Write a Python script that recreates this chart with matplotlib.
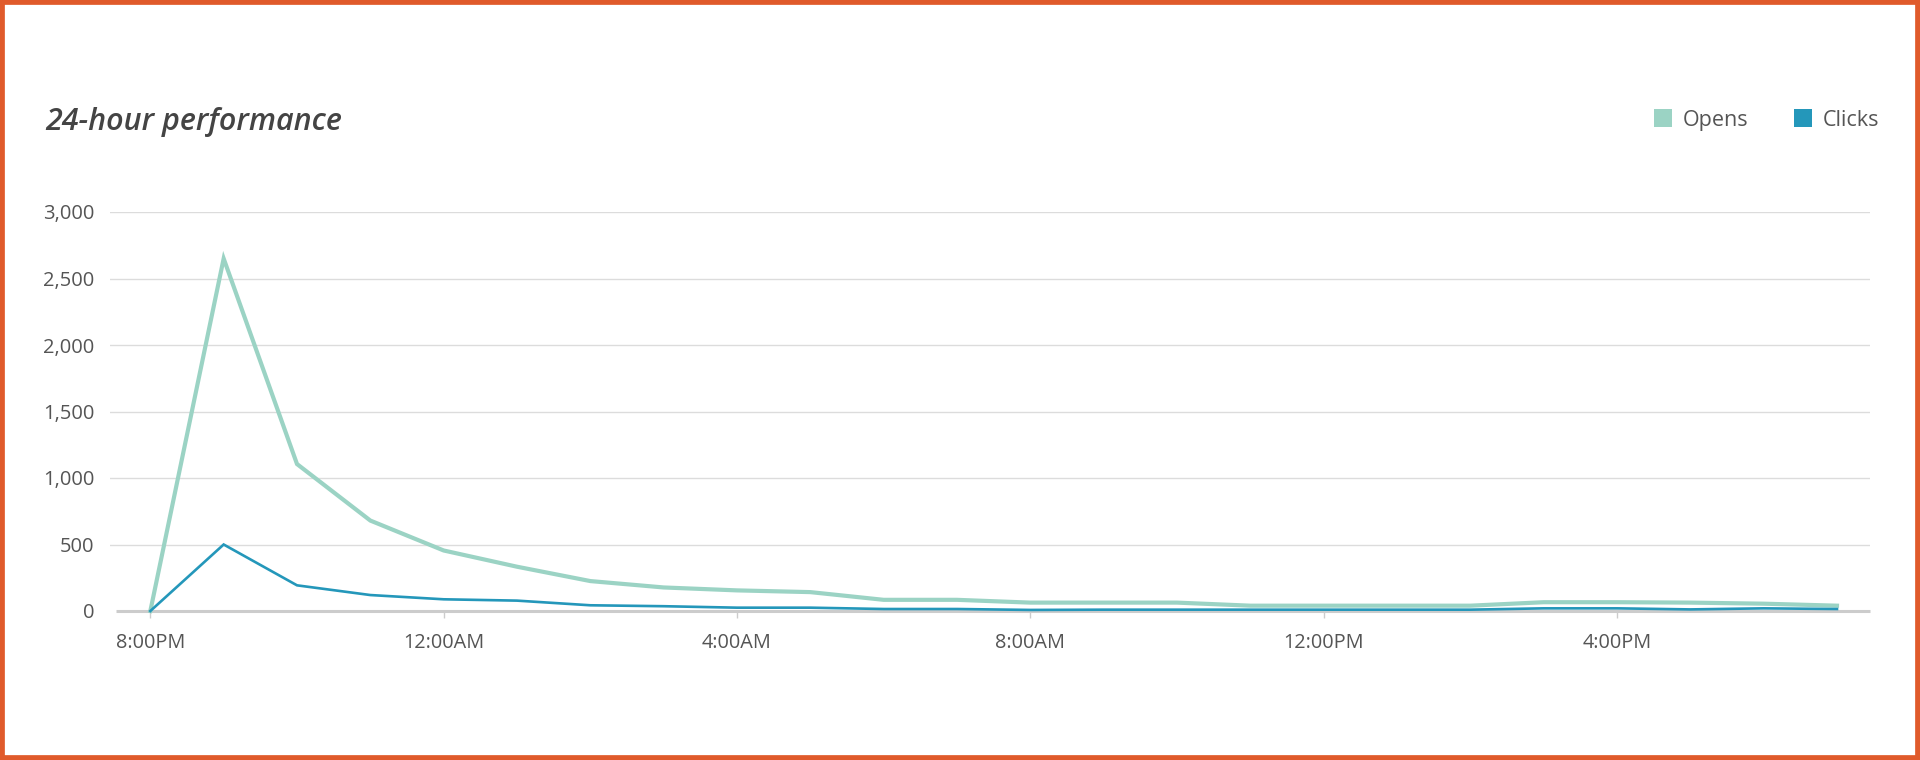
import matplotlib.pyplot as plt
from matplotlib.patches import Patch, Rectangle

# hourly buckets, 8PM -> 7PM
hours = ['8PM', '9PM', '10PM', '11PM', '12AM', '1AM', '2AM', '3AM', '4AM', '5AM', '6AM', '7AM',
         '8AM', '9AM', '10AM', '11AM', '12PM', '1PM', '2PM', '3PM', '4PM', '5PM', '6PM', '7PM']
opens = [0, 2650, 1105, 680, 455, 333, 225, 177, 155, 142, 84, 84,
         63, 63, 63, 40, 40, 40, 40, 66, 66, 63, 55, 40]
clicks = [0, 500, 193, 120, 88, 78, 43, 36, 25, 25, 15, 15,
          8, 10, 10, 10, 10, 10, 10, 20, 20, 12, 20, 15]

xtick_pos = [0, 4, 8, 12, 16, 20]
xtick_labels = ['8:00PM', '12:00AM', '4:00AM', '8:00AM', '12:00PM', '4:00PM']
ytick_vals = [0, 500, 1000, 1500, 2000, 2500, 3000]

c_opens = '#9bd3c4'
c_clicks = '#2497ba'
c_text = '#555555'

plt.rcParams['font.family'] = ['Open Sans', 'DejaVu Sans']

fig = plt.figure(figsize=(19.2, 7.6), dpi=100)
ax = fig.add_axes([110/1920, 1-611/760, 1760/1920, 399/760])

x = list(range(len(hours)))
ax.plot(x, opens, color=c_opens, lw=3.0, solid_joinstyle='miter', clip_on=False, zorder=3)
ax.plot(x, clicks, color=c_clicks, lw=1.9, solid_joinstyle='miter', clip_on=False, zorder=4)

ax.set_xlim(-0.55, 23.45)
ax.set_ylim(0, 3000)

# grid
for v in ytick_vals[1:]:
    ax.axhline(v, color='#dcdcdc', lw=1.0, zorder=1)
ax.plot([-0.47, 23.45], [0, 0], color='#cccccc', lw=2.2, zorder=2, clip_on=False, solid_capstyle='butt')

for s in ax.spines.values():
    s.set_visible(False)

ax.set_yticks(ytick_vals)
ax.set_yticklabels(['{:,}'.format(v) for v in ytick_vals])
ax.set_xticks(xtick_pos)
ax.set_xticklabels(xtick_labels)
ax.tick_params(axis='y', length=0, pad=11, labelsize=14.5, labelcolor=c_text)
ax.tick_params(axis='x', length=5, width=1, color='#cccccc', pad=11, labelsize=14.3, labelcolor=c_text)

fig.text(45/1920, 1-122/760, '24-hour performance', fontsize=22, style='italic', weight='semibold',
         color='#444444', ha='left', va='center')

handles = [Patch(facecolor=c_opens, edgecolor='none', label='Opens'),
           Patch(facecolor=c_clicks, edgecolor='none', label='Clicks')]
fig.legend(handles=handles, loc='center right', bbox_to_anchor=(1890/1920, 1-120/760), ncol=2,
           frameon=False, fontsize=15.5, handlelength=0.85, handleheight=0.85, handletextpad=0.5,
           columnspacing=2.1, borderpad=0, labelcolor=c_text)

# orange frame
fig.patches.append(Rectangle((0, 0), 1, 1, transform=fig.transFigure, fill=False,
                             edgecolor='#e05a2b', lw=7, zorder=10))

fig.savefig('out.png', dpi=100, facecolor='white')
